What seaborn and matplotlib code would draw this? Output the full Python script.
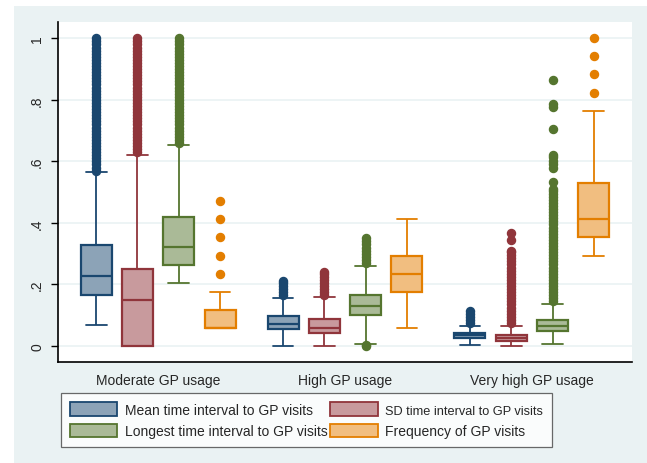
import numpy as np
import pandas as pd
import matplotlib
matplotlib.use("Agg")
import matplotlib.pyplot as plt
from matplotlib.patches import Patch, Rectangle
import seaborn as sns

# ---------------- data ----------------
groups = ["Moderate GP usage", "High GP usage", "Very high GP usage"]
measures = ["Mean time interval to GP visits", "SD time interval to GP visits",
            "Longest time interval to GP visits", "Frequency of GP visits"]

# five-number summaries per measure, one value per group
mean_lo  = [0.067, 0.000, 0.003]
mean_q1  = [0.166, 0.056, 0.026]
mean_med = [0.2275, 0.0705, 0.0347]
mean_q3  = [0.327, 0.0975, 0.043]
mean_hi  = [0.565, 0.155, 0.066]

sd_lo  = [0.000, 0.000, 0.000]
sd_q1  = [0.000, 0.041, 0.0153]
sd_med = [0.1485, 0.0595, 0.025]
sd_q3  = [0.250, 0.089, 0.0367]
sd_hi  = [0.622, 0.159, 0.066]

long_lo  = [0.204, 0.008, 0.0065]
long_q1  = [0.262, 0.102, 0.048]
long_med = [0.321, 0.130, 0.064]
long_q3  = [0.420, 0.166, 0.084]
long_hi  = [0.652, 0.260, 0.136]

freq_lo  = [0.0588, 0.0588, 0.2941]
freq_q1  = [0.0588, 0.1765, 0.3529]
freq_med = [0.0588, 0.2353, 0.4118]
freq_q3  = [0.1176, 0.2941, 0.5294]
freq_hi  = [0.1765, 0.4118, 0.7647]

# outside values
mean_out = [
    [0.57, 0.58, 0.59, 0.60, 0.61, 0.62, 0.63, 0.64, 0.65, 0.66, 0.67, 0.68, 0.69, 0.70, 0.71,
     0.72, 0.73, 0.74, 0.75, 0.76, 0.77, 0.78, 0.79, 0.80, 0.81, 0.82, 0.83, 0.84, 0.85, 0.86,
     0.87, 0.88, 0.89, 0.90, 0.91, 0.92, 0.93, 0.94, 0.95, 0.96, 0.97, 0.98, 0.99, 1.00],
    [0.165, 0.175, 0.185, 0.195, 0.205, 0.21],
    [0.075, 0.085, 0.095, 0.105, 0.113],
]
sd_out = [
    [0.63, 0.64, 0.65, 0.66, 0.67, 0.68, 0.69, 0.70, 0.71, 0.72, 0.73, 0.74, 0.75, 0.76, 0.77,
     0.78, 0.79, 0.80, 0.81, 0.82, 0.83, 0.84, 0.85, 0.86, 0.87, 0.88, 0.89, 0.90, 0.91, 0.92,
     0.93, 0.94, 0.95, 0.96, 0.97, 0.98, 0.99, 1.00],
    [0.165, 0.175, 0.185, 0.195, 0.205, 0.215, 0.225, 0.235, 0.24],
    [0.075, 0.085, 0.095, 0.105, 0.115, 0.125, 0.135, 0.145, 0.155, 0.165, 0.175, 0.185, 0.195,
     0.205, 0.215, 0.225, 0.235, 0.245, 0.255, 0.265, 0.275, 0.285, 0.295, 0.305, 0.31,
     0.345, 0.368],
]
long_out = [
    [0.66, 0.67, 0.68, 0.69, 0.70, 0.71, 0.72, 0.73, 0.74, 0.75, 0.76, 0.77, 0.78, 0.79, 0.80,
     0.81, 0.82, 0.83, 0.84, 0.85, 0.86, 0.87, 0.88, 0.89, 0.90, 0.91, 0.92, 0.93, 0.94, 0.95,
     0.96, 0.97, 0.98, 0.99, 1.00],
    [0.0, 0.003, 0.27, 0.28, 0.29, 0.30, 0.31, 0.32, 0.33, 0.34, 0.35],
    [0.145, 0.155, 0.165, 0.175, 0.185, 0.195, 0.205, 0.215, 0.225, 0.235, 0.245, 0.255, 0.265,
     0.275, 0.285, 0.295, 0.305, 0.315, 0.325, 0.335, 0.345, 0.355, 0.365, 0.375, 0.385, 0.395,
     0.405, 0.415, 0.425, 0.435, 0.445, 0.455, 0.465, 0.475, 0.485, 0.495, 0.505, 0.51,
     0.533, 0.578, 0.59, 0.60, 0.615, 0.622, 0.704, 0.776, 0.786, 0.866],
]
freq_out = [
    [0.2353, 0.2941, 0.3529, 0.4118, 0.4706],
    [],
    [0.8235, 0.8824, 0.9412, 1.0],
]

edge_colors = ["#1A476F", "#90353B", "#55752F", "#E37E00"]
fill_colors = ["#8CA3B7", "#C89A9D", "#AABA97", "#F1BE80"]

# ---------------- build a table that reproduces those summaries ----------------
summaries = {
    measures[0]: (mean_lo, mean_q1, mean_med, mean_q3, mean_hi, mean_out),
    measures[1]: (sd_lo, sd_q1, sd_med, sd_q3, sd_hi, sd_out),
    measures[2]: (long_lo, long_q1, long_med, long_q3, long_hi, long_out),
    measures[3]: (freq_lo, freq_q1, freq_med, freq_q3, freq_hi, freq_out),
}
N = 300  # weight of the quartile values so that outside values do not move them
rows = []
for m, (lo, q1, md, q3, hi, out) in summaries.items():
    for gi, g in enumerate(groups):
        vals = [lo[gi]] + [q1[gi]] * N + [md[gi]] * N + [q3[gi]] * N + [hi[gi]] + list(out[gi])
        rows += [(g, m, v) for v in vals]
df = pd.DataFrame(rows, columns=["group", "measure", "value"])

# ---------------- plot ----------------
sns.set_style("white")
plt.rcParams["font.family"] = ["Liberation Sans", "DejaVu Sans"]

fig = plt.figure(figsize=(6.47, 4.64), dpi=100, facecolor="white")
fig.patches.append(Rectangle((14 / 647, 0), 1, 457 / 464, transform=fig.transFigure,
                             facecolor="#EAF2F3", edgecolor="none", zorder=-10))
ax = fig.add_axes([58 / 647, 1 - 363 / 464, (632 - 58) / 647, (363 - 23) / 464])
ax.set_facecolor("white")

sns.boxplot(data=df, x="group", y="value", hue="measure", order=groups, hue_order=measures,
            palette=fill_colors, saturation=1, width=0.884, gap=0.25, linewidth=1.3,
            fliersize=5.8, whis=1.5, legend=False, ax=ax)

for i, cont in enumerate(ax.containers):
    ec = edge_colors[i]
    for b in cont.boxes:
        b.set_edgecolor(ec)
        b.set_linewidth(1.6)
    for ln in list(cont.medians) + list(cont.whiskers) + list(cont.caps):
        ln.set_color(ec)
    for ln in cont.medians:
        ln.set_linewidth(1.6)
    # whisker caps about two thirds of the box width (Stata look)
    for cap in cont.caps:
        xd = cap.get_xdata()
        c = (xd[0] + xd[1]) / 2
        cap.set_xdata([c - 0.056, c + 0.056])
    for fl in cont.fliers:
        fl.set_marker("o")
        fl.set_markerfacecolor(ec)
        fl.set_markeredgecolor(ec)
        fl.set_markersize(5.8)

ax.set_xlim(-0.535, 2.535)
ax.set_ylim(-0.052, 1.053)
ax.set_yticks([0, 0.2, 0.4, 0.6, 0.8, 1.0])
ax.set_yticklabels(["0", ".2", ".4", ".6", ".8", "1"], rotation=90, va="center", fontsize=10)
ax.tick_params(axis="y", length=5, width=1, color="black", pad=5, left=True)
ax.tick_params(axis="x", length=0, pad=8, labelsize=10)
ax.set_xlabel("")
ax.set_ylabel("")
ax.grid(axis="y", color="#EAF2F3", linewidth=1.2)
ax.set_axisbelow(True)
for s in ["top", "right"]:
    ax.spines[s].set_visible(False)
for s in ["left", "bottom"]:
    ax.spines[s].set_color("black")
    ax.spines[s].set_linewidth(1.2)

handles = [Patch(facecolor=fill_colors[k], edgecolor=edge_colors[k], linewidth=1.3) for k in range(4)]
order = [0, 2, 1, 3]
leg = fig.legend([handles[k] for k in order], [measures[k] for k in order], ncol=2,
                 loc="upper left", bbox_to_anchor=(61 / 647, 1 - 394 / 464),
                 frameon=True, fancybox=False, fontsize=10, handlelength=3.4,
                 handleheight=1.15, handletextpad=0.55, columnspacing=0.2,
                 labelspacing=0.5, borderpad=0.65, borderaxespad=0)
for t in leg.get_texts():
    if t.get_text().startswith("SD"):
        t.set_fontsize(9.2)
leg.get_frame().set_edgecolor("#444444")
leg.get_frame().set_linewidth(0.9)

fig.savefig("out.png", dpi=100, facecolor=fig.get_facecolor())
